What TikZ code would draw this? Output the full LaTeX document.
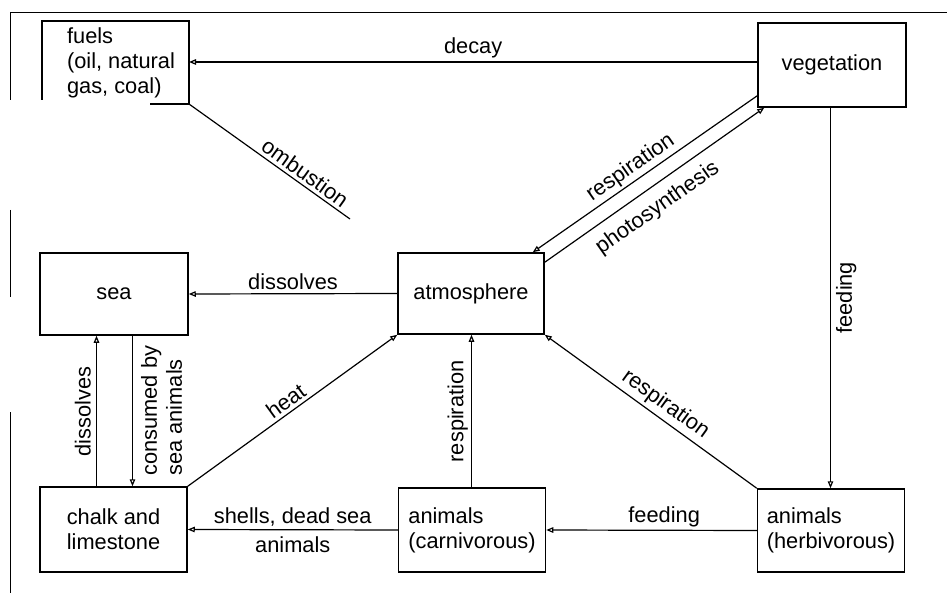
\documentclass[tikz,border=0pt]{standalone}
\usepackage{fontspec}
\setmainfont{Liberation Sans}
\usetikzlibrary{arrows.meta}
\newcommand{\dfont}{\fontsize{21.8}{25}\selectfont}
\begin{document}
\begin{tikzpicture}[x=1pt,y=-1pt,
  box/.style={draw, line width=1.5pt, minimum width=147pt, minimum height=83pt,
    inner sep=0pt, font=\dfont, align=center},
  conn/.style={line width=1.2pt, -{Triangle[open,length=7pt,width=5.5pt]}},
  plain/.style={line width=1.2pt},
  lbl/.style={font=\dfont, inner sep=3pt},
  frame/.style={line width=1.1pt}]
\useasboundingbox (0,0) rectangle (947,593);

% scan frame remnants
\draw[frame] (10,12.5) -- (947,12.5);
\draw[frame] (10.5,12.5) -- (10.5,100);
\draw[frame] (10.5,210) -- (10.5,297);
\draw[frame] (10.5,412) -- (10.5,593);

% boxes
\node[box, draw=none, align=left] (fuels) at (121,62.5) {fuels\\(oil, natural\\gas, coal)};
\draw[line width=1.5pt] (150,104) -- (189,104) -- (189,21) -- (42,21) -- (42,100);
\node[box, minimum width=148pt, minimum height=84pt] (veg) at (832,65) {vegetation};
\node[box, minimum width=148pt, minimum height=82pt] (sea) at (114,294) {sea};
\node[box, minimum width=146pt, minimum height=81pt] (atm) at (471,293.5) {atmosphere};
\node[box, minimum height=85pt] (chalk) at (113.5,529.5) {chalk and\\limestone};
\node[box, minimum height=84pt, align=left] (carn) at (472,530) {animals\\(carnivorous)};
\node[box, align=left] (herb) at (831,530.5) {animals\\(herbivorous)};

% connectors
\draw[conn] ([yshift=3pt]veg.west) -- (189,62)
  node[midway, above, lbl] {decay};

\coordinate (cstart) at (189,104);
\coordinate (cend) at (350,219);
\draw[plain] (cstart) -- (cend)
  node[pos=0.68, above, sloped, lbl] {ombustion};

\draw[conn] ([yshift=12pt]veg.south west) -- ([xshift=-12pt]atm.north east)
  node[pos=0.53, above, sloped, lbl, inner sep=2.5pt] {respiration};
\draw[conn] ([yshift=-10pt]atm.north east) -- ([xshift=7pt]veg.south west)
  node[pos=0.46, below, sloped, lbl, inner sep=10pt] {photosynthesis};

\coordinate (c4) at (830.5,107);
\draw[conn] (c4) -- (c4 |- herb.north)
  node[midway, rotate=90, anchor=north, lbl, inner sep=5pt] {feeding};

\draw[conn] (atm.west) -- (sea.east)
  node[midway, above, lbl] {dissolves};

\coordinate (c1) at (96.5,487);
\draw[conn] (c1) -- (c1 |- sea.south)
  node[midway, rotate=90, anchor=south, lbl, inner sep=5pt] {dissolves};
\coordinate (c2) at (132.5,335);
\draw[conn] (c2) -- (c2 |- chalk.north)
  node[midway, rotate=90, anchor=north, lbl, inner sep=8pt, align=left] {consumed by\\sea animals};

\draw[conn] (chalk.north east) -- (atm.south west)
  node[midway, above, sloped, lbl] {heat};

\coordinate (c3) at (471.5,488);
\draw[conn] (c3) -- (c3 |- atm.south)
  node[midway, rotate=90, anchor=south, lbl] {respiration};

\draw[conn] (herb.north west) -- (atm.south east)
  node[pos=0.47, above, sloped, lbl, inner sep=3.5pt] {respiration};

\draw[conn] (carn.west) -- (chalk.east)
  node[midway, above, lbl] {shells, dead sea}
  node[midway, below, lbl, inner sep=6pt] {animals};

\draw[conn] (herb.west) -- (carn.east)
  node[pos=0.44, above, lbl] {feeding};
\end{tikzpicture}
\end{document}
